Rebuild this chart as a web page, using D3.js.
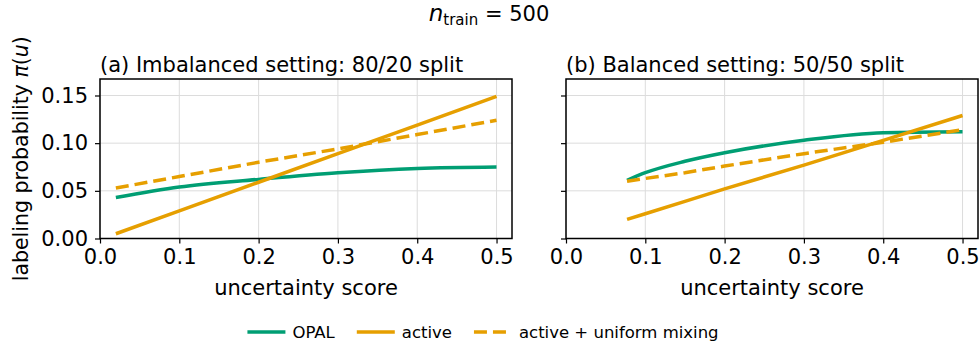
<!DOCTYPE html>
<html>
<head>
<meta charset="utf-8">
<script src="https://cdn.jsdelivr.net/npm/d3@7"></script>
<style>
  body { margin: 0; background: #fff; }
  svg { display: block; font-family: "DejaVu Sans", sans-serif; }
</style>
</head>
<body>
<svg></svg>
<script>
// panel (a): imbalanced 80/20
const uA = [0.02, 0.1, 0.2, 0.3, 0.4, 0.5];
const opalA = [0.043, 0.054, 0.062, 0.069, 0.0735, 0.075];
const activeA = [0.005, 0.029, 0.059, 0.089, 0.119, 0.149];
const mixA = [0.053, 0.065, 0.080, 0.094, 0.109, 0.124];

// panel (b): balanced 50/50
const uB = [0.077, 0.1, 0.15, 0.2, 0.3, 0.4, 0.5];
const opalB = [0.061, 0.069, 0.081, 0.090, 0.103, 0.111, 0.112];
const activeB = [0.020, 0.026, 0.039, 0.052, 0.077, 0.103, 0.129];
const mixB = [0.060, 0.063, 0.069, 0.076, 0.089, 0.101, 0.114];

const xTicks = [0, 0.1, 0.2, 0.3, 0.4, 0.5];
const yTicks = [0, 0.05, 0.1, 0.15];
const seriesNames = ['OPAL', 'active', 'active + uniform mixing'];
const titles = ['(a) Imbalanced setting: 80/20 split', '(b) Balanced setting: 50/50 split'];

const width = 979;
const height = 346;
const green = '#009e73';
const orange = '#e69f00';
const lw = 3.5;
const dash = '13,6';
const fs = '21px';

const svg = d3.select('svg').attr('width', width).attr('height', height);

const yTop = 79, yBottom = 238.5;
const panels = [
  { x0: 100, x1: 512, u: uA, opal: opalA, active: activeA, mix: mixA, labels: true },
  { x0: 566, x1: 978, u: uB, opal: opalB, active: activeB, mix: mixB, labels: false }
];

const y = d3.scaleLinear().domain([0, 0.1673]).range([yBottom, yTop]);

panels.forEach((p, i) => {
  const x = d3.scaleLinear().domain([0, 0.5195]).range([p.x0, p.x1]);
  const g = svg.append('g');

  // grid
  g.append('g').selectAll('line').data(xTicks).join('line')
    .attr('x1', (d) => x(d)).attr('x2', (d) => x(d))
    .attr('y1', yTop).attr('y2', yBottom)
    .attr('stroke', '#dcdcdc').attr('stroke-width', 1);
  g.append('g').selectAll('line').data(yTicks).join('line')
    .attr('y1', (d) => y(d)).attr('y2', (d) => y(d))
    .attr('x1', p.x0).attr('x2', p.x1)
    .attr('stroke', '#dcdcdc').attr('stroke-width', 1);

  const pts = (vals) => p.u.map((u, k) => [u, vals[k]]);
  const line = d3.line().x((d) => x(d[0])).y((d) => y(d[1]));
  const curve = d3.line().x((d) => x(d[0])).y((d) => y(d[1])).curve(d3.curveMonotoneX);

  g.append('path').datum(pts(p.opal)).attr('d', curve)
    .attr('fill', 'none').attr('stroke', green).attr('stroke-width', lw);
  g.append('path').datum(pts(p.active)).attr('d', line)
    .attr('fill', 'none').attr('stroke', orange).attr('stroke-width', lw);
  g.append('path').datum(pts(p.mix)).attr('d', line)
    .attr('fill', 'none').attr('stroke', orange).attr('stroke-width', lw)
    .attr('stroke-dasharray', dash);

  // axes
  const xAxis = d3.axisBottom(x).tickValues(xTicks).tickFormat(d3.format('.1f')).tickSize(5).tickPadding(6);
  const gx = g.append('g').attr('transform', 'translate(0,' + yBottom + ')').call(xAxis);
  const yAxis = d3.axisLeft(y).tickValues(yTicks).tickFormat(p.labels ? d3.format('.2f') : () => '').tickSize(5).tickPadding(7);
  const gy = g.append('g').attr('transform', 'translate(' + p.x0 + ',0)').call(yAxis);
  [gx, gy].forEach((a) => {
    a.select('.domain').remove();
    a.selectAll('.tick line').attr('stroke', '#000').attr('stroke-width', 1.2);
    a.selectAll('.tick text').attr('fill', '#000').style('font-size', fs)
      .style('font-family', '"DejaVu Sans", sans-serif');
  });

  g.append('rect')
    .attr('x', p.x0).attr('y', yTop)
    .attr('width', p.x1 - p.x0).attr('height', yBottom - yTop)
    .attr('fill', 'none').attr('stroke', '#000').attr('stroke-width', 1.5);

  g.append('text')
    .attr('x', p.x0).attr('y', 72)
    .style('font-size', fs)
    .text(titles[i]);

  g.append('text')
    .attr('x', (p.x0 + p.x1) / 2).attr('y', 295)
    .attr('text-anchor', 'middle')
    .style('font-size', fs)
    .text('uncertainty score');
});

// y label
const yl = svg.append('text')
  .attr('transform', 'translate(28,' + (yTop + yBottom) / 2 + ') rotate(-90)')
  .attr('text-anchor', 'middle')
  .style('font-size', '20.5px');
yl.append('tspan').text('labeling probability ');
yl.append('tspan').style('font-style', 'italic').text('π');
yl.append('tspan').text('(');
yl.append('tspan').style('font-style', 'italic').text('u');
yl.append('tspan').text(')');

// suptitle
const st = svg.append('text')
  .attr('x', 489).attr('y', 21)
  .attr('text-anchor', 'middle')
  .style('font-size', '21px');
st.append('tspan').style('font-style', 'italic').style('font-size', '23px').text('n');
st.append('tspan').attr('dy', 4).style('font-size', '15px').text('train');
st.append('tspan').attr('dy', -4).text(' = 500');

// legend
const legend = svg.append('g');
const styles = [
  { color: green, dash: null },
  { color: orange, dash: null },
  { color: orange, dash: dash }
];
let lx = 0;
seriesNames.forEach((name, i) => {
  const item = legend.append('g').attr('transform', 'translate(' + lx + ',0)');
  item.append('line')
    .attr('x1', 0).attr('x2', 38).attr('y1', 0).attr('y2', 0)
    .attr('stroke', styles[i].color).attr('stroke-width', lw)
    .attr('stroke-dasharray', styles[i].dash);
  const t = item.append('text')
    .attr('x', 45).attr('y', 6)
    .style('font-size', '16.5px')
    .text(name);
  lx += 45 + t.node().getComputedTextLength() + 22;
});
legend.attr('transform', 'translate(' + (483 - (lx - 22) / 2) + ',332)');
</script>
</body>
</html>
